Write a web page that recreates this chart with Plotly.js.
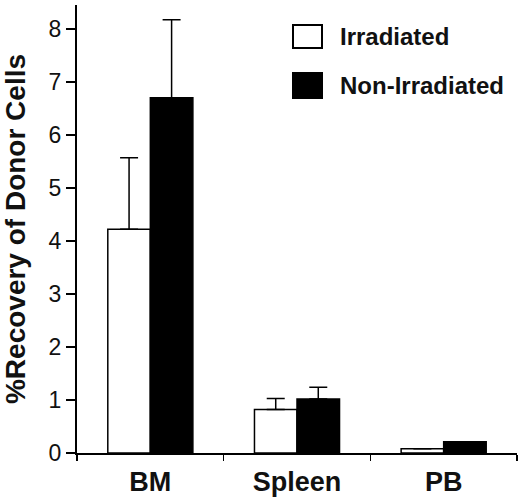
<!DOCTYPE html>
<html>
<head>
<meta charset="utf-8">
<script src="https://cdn.plot.ly/plotly-3.0.1.min.js"></script>
<style>
  body { margin: 0; background: #fff; }
  #chart { width: 520px; height: 498px; }
</style>
</head>
<body>
<div id="chart"></div>
<script>
// values
var tissues = ["BM", "Spleen", "PB"];
var seriesNames = ["Irradiated", "Non-Irradiated"];
var irradiated = [4.22, 0.82, 0.08];
var irradiatedErr = [1.35, 0.21, 0];
var nonIrradiated = [6.70, 1.02, 0.21];
var nonIrradiatedErr = [1.47, 0.22, 0];
var fills = ["#ffffff", "#000000"];

var W = 520, H = 498;
var mL = 77, mR = 3, mT = 5, mB = 45;

// pixel -> paper helpers for the hand-built legend
function px(x) { return (x - mL) / (W - mL - mR); }
function py(y) { return (H - mB - y) / (H - mT - mB); }

function barTrace(name, vals, errs, fill) {
    return {
        type: "bar",
        name: name,
        x: tissues,
        y: vals,
        marker: {color: fill, line: {color: "#000", width: 1.5}},
        error_y: {
            type: "data",
            symmetric: false,
            array: errs,
            arrayminus: errs.map(function(){ return 0; }),
            color: "#000",
            thickness: 1.5,
            width: 9
        },
        hoverinfo: "none"
    };
}

var data = [
    barTrace(seriesNames[0], irradiated, irradiatedErr, fills[0]),
    barTrace(seriesNames[1], nonIrradiated, nonIrradiatedErr, fills[1])
];

// legend: boxes + labels
var shapes = [], annotations = [];
var legendRows = [[25, 48], [73, 98]];
seriesNames.forEach(function(n, i){
    var r = legendRows[i];
    shapes.push({
        type: "rect", xref: "paper", yref: "paper",
        x0: px(293), x1: px(322), y0: py(r[1]), y1: py(r[0]),
        fillcolor: fills[i], line: {color: "#000", width: 2}
    });
    annotations.push({
        xref: "paper", yref: "paper",
        x: px(338), y: py((r[0] + r[1]) / 2),
        xanchor: "left", yanchor: "middle",
        text: n, showarrow: false,
        font: {family: "Liberation Sans, Arial, sans-serif", size: 24, color: "#111", weight: "bold"}
    });
});

var layout = {
    width: W, height: H,
    margin: {l: mL, r: mR, t: mT, b: mB, pad: 0},
    paper_bgcolor: "#fff",
    plot_bgcolor: "#fff",
    showlegend: false,
    barmode: "group",
    bargap: 0.42,
    bargroupgap: 0,
    font: {family: "Liberation Sans, Arial, sans-serif", color: "#111"},
    xaxis: {
        range: [-0.5, 2.5],
        showline: true, linecolor: "#000", linewidth: 2,
        ticks: "outside", tickson: "boundaries", ticklen: 6, tickwidth: 1.5, tickcolor: "#000",
        ticklabelstandoff: 4,
        tickfont: {size: 27, weight: "bold", color: "#111"},
        showgrid: false, zeroline: false, fixedrange: true
    },
    yaxis: {
        range: [0, 8.45],
        dtick: 1, tick0: 0,
        showline: true, linecolor: "#000", linewidth: 2,
        ticks: "outside", ticklen: 9, tickwidth: 1.5, tickcolor: "#000",
        tickfont: {size: 23, color: "#111"},
        showgrid: false, zeroline: false, fixedrange: true,
        title: {text: "%Recovery of Donor Cells", font: {size: 28, weight: "bold", color: "#111"}, standoff: 26}
    },
    shapes: shapes,
    annotations: annotations
};

Plotly.newPlot("chart", data, layout, {staticPlot: true});
</script>
</body>
</html>
